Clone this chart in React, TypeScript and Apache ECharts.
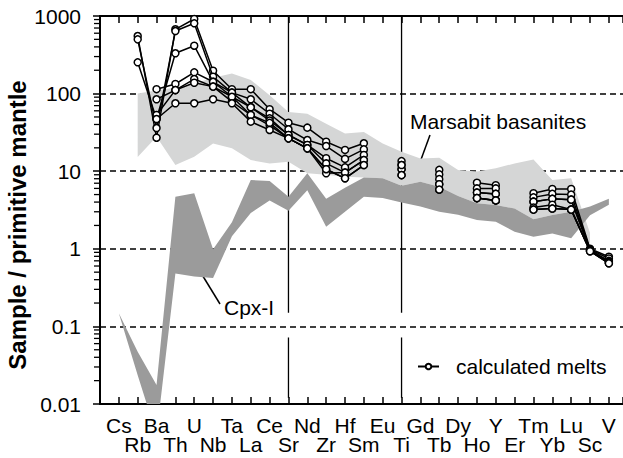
import React, { useEffect, useRef } from "react";
import * as echarts from "echarts";

// Elements (x categories, primitive-mantle order)
const elements = ["Cs","Rb","Ba","Th","U","Nb","Ta","La","Ce","Sr","Nd","Zr","Hf","Sm","Eu","Ti","Gd","Tb","Dy","Ho","Y","Er","Tm","Yb","Lu","Sc","V"];

// Calculated melts (sample / primitive mantle), null = not plotted
const melt1 = [null,552,27,674,915,197,114,114,63,42.2,36.4,24,18.8,22.9,null,13.5,null,10.4,null,7.1,6.6,null,5.2,5.9,5.9,1.0,0.79];
const melt2 = [null,500,36,640,805,165,103,84.5,55,34.7,25.2,21.1,14.4,19.1,null,12,null,9.1,null,6.0,6.0,null,4.6,5.1,5.0,0.98,0.75];
const melt3 = [null,253,47,331,414,142,91,66.6,48,29.3,21.8,14.7,11.2,16.2,null,10.6,null,7.9,null,5.3,5.1,null,4.05,4.4,4.3,0.96,0.70];
const melt4 = [null,null,114,133,188,142,103,66.6,45,29.3,21.8,12.6,9.6,13.9,null,10.6,null,6.8,null,5.3,5.1,null,4.05,4.4,4.3,0.95,0.68];
const melt5 = [null,null,84.5,111,154,123,79,53,39,26.5,19.7,10.6,8.1,12,null,8.9,null,5.8,null,4.5,4.2,null,3.4,3.7,3.2,0.94,0.65];
const melt6 = [null,null,53,111,138,123,91,53,42,26.5,19.7,9.4,9.6,13.9,null,12,null,6.8,null,4.5,4.2,null,3.2,3.3,3.2,0.93,0.66];
const melt7 = [null,null,47,75,75,84.5,75,43.5,34,26.5,19.7,10.6,8.1,12,null,8.9,null,5.8,null,4.5,4.2,null,3.2,3.3,3.2,0.93,0.65];
const melts = [melt1, melt2, melt3, melt4, melt5, melt6, melt7];

// Cpx-I field (dark grey)
const cpxUpper = [0.148,0.047,0.0176,4.7,5.2,0.99,2.2,7.7,7.5,4.7,9.4,4.4,6.1,8.3,8.1,6.5,7.3,6.3,4.8,3.85,3.67,3.3,2.4,2.73,3.0,3.5,4.4];
const cpxLower = [0.148,0.0235,0.004,0.48,0.44,0.42,1.45,2.9,4.2,3.1,5.7,1.93,3.0,4.7,4.5,3.95,3.5,3.0,2.75,2.35,2.23,1.66,1.43,1.58,1.37,2.7,3.7];

// Marsabit basanites field (light grey)
const basUpper = [null,100,110,120,135,160,182,150,95,58,55,41,30.6,32,22.8,17.8,14.6,14.9,10.4,9.9,10.9,12.6,14.2,7.7,8.1,1.6,null];
const basLower = [null,15.2,27.8,12,15.4,22.8,19.7,13.9,12.6,13.2,9.4,9.0,8.5,8.3,8.1,6.5,7.3,6.3,4.8,3.85,3.67,3.3,2.4,2.73,3.0,1.15,null];

// Vertical guide lines (at Sr and Ti), drawn in two segments
const guideElements = ["Sr", "Ti"];
const guideSegments = [[1000, 0.15], [0.072, 0.012]];

// Log minor ticks
const yMinorTicks = [0.02,0.03,0.04,0.05,0.06,0.07,0.08,0.09,0.2,0.3,0.4,0.5,0.6,0.7,0.8,0.9,2,3,4,5,6,7,8,9,20,30,40,50,60,70,80,90,200,300,400,500,600,700,800,900];

const FONT = "Liberation Sans, Arial, Helvetica, sans-serif";

function bandSeries(name: string, upper: (number | null)[], lower: (number | null)[], color: string, z: number) {
  return {
    type: "custom",
    name,
    coordinateSystem: "cartesian2d",
    clip: true,
    silent: true,
    z,
    data: [[0, 1]],
    renderItem: (_params: any, api: any) => {
      const pts: number[][] = [];
      upper.forEach((v, i) => { if (v != null) pts.push(api.coord([i, v])); });
      for (let i = lower.length - 1; i >= 0; i--) {
        const v = lower[i];
        if (v != null) pts.push(api.coord([i, v]));
      }
      return { type: "polygon", shape: { points: pts }, style: { fill: color } };
    },
  };
}

export default function App() {
  const ref = useRef<HTMLDivElement>(null);
  useEffect(() => {
    if (!ref.current) return;
    const chart = echarts.init(ref.current, null, { renderer: "svg" });
    const xLabel = (val: number) => {
      const i = Math.round(val);
      if (Math.abs(val - i) > 1e-6 || i < 0 || i >= elements.length) return "";
      return i % 2 === 0 ? elements[i] : "\n" + elements[i];
    };
    const guideData: number[][] = [];
    guideElements.forEach((el) => {
      const xi = elements.indexOf(el);
      guideSegments.forEach(([a, b]) => guideData.push([xi, a, b]));
    });
    const option: any = {
      animation: false,
      textStyle: { fontFamily: FONT },
      grid: { left: 100, right: 0, top: 16, bottom: 54, containLabel: false, outerBoundsMode: "none" },
      xAxis: [
        {
          type: "value", min: -1, max: 26.75, interval: 1, position: "bottom",
          axisLine: { show: true, onZero: false, lineStyle: { color: "#000", width: 2 } },
          axisTick: { show: true, inside: true, length: 7, lineStyle: { color: "#000", width: 1.5 } },
          axisLabel: { formatter: xLabel, fontSize: 21, color: "#000", margin: 12, lineHeight: 19, fontFamily: FONT },
          splitLine: { show: false },
        },
        {
          type: "value", min: -1, max: 26.75, interval: 1, position: "top",
          axisLine: { show: true, onZero: false, lineStyle: { color: "#000", width: 2 } },
          axisTick: { show: true, inside: true, length: 7, lineStyle: { color: "#000", width: 1.5 } },
          axisLabel: { show: false },
          splitLine: { show: false },
        },
      ],
      yAxis: {
        type: "log", logBase: 10, min: 0.01, max: 1000,
        axisLine: { show: true, onZero: false, lineStyle: { color: "#000", width: 2 } },
        axisTick: { show: true, inside: false, length: 7, lineStyle: { color: "#000", width: 1.5 } },
        axisLabel: { fontSize: 21, color: "#000", margin: 19, fontFamily: FONT, formatter: (v: number) => String(+Number(v).toPrecision(3)) },
        splitLine: { show: true, lineStyle: { color: "#000", width: 1.6, type: [6, 4] } },
      },
      legend: {
        data: ["calculated melts"],
        left: 412, top: 351,
        itemWidth: 21, itemHeight: 7,
        textStyle: { fontSize: 21, color: "#000", fontFamily: FONT, padding: [0, 0, 0, 12] },
        selectedMode: false,
      },
      graphic: [
        { type: "text", x: 17, y: 225, rotation: Math.PI / 2, style: { text: "Sample / primitive mantle", font: `bold 24px ${FONT}`, fill: "#000", align: "center", verticalAlign: "middle" } },
        { type: "text", x: 410, y: 121, style: { text: "Marsabit basanites", font: `21px ${FONT}`, fill: "#000", align: "left", verticalAlign: "middle" } },
        { type: "line", shape: { x1: 430, y1: 135, x2: 419, y2: 165 }, style: { stroke: "#000", lineWidth: 1.5 } },
        { type: "text", x: 224, y: 307, style: { text: "Cpx-I", font: `21px ${FONT}`, fill: "#000", align: "left", verticalAlign: "middle" } },
        { type: "line", shape: { x1: 201, y1: 273, x2: 220, y2: 304 }, style: { stroke: "#000", lineWidth: 1.5 } },
      ],
      series: [
        {
          type: "custom", name: "guides", coordinateSystem: "cartesian2d", silent: true, z: 1,
          data: guideData,
          renderItem: (_p: any, api: any) => {
            const p1 = api.coord([api.value(0), api.value(1)]);
            const p2 = api.coord([api.value(0), api.value(2)]);
            return { type: "line", shape: { x1: p1[0], y1: p1[1], x2: p2[0], y2: p2[1] }, style: { stroke: "#000", lineWidth: 1.3 } };
          },
        },
        {
          type: "custom", name: "minor ticks", coordinateSystem: "cartesian2d", silent: true, z: 1,
          data: yMinorTicks.map((v) => [-1, v]),
          renderItem: (_p: any, api: any) => {
            const p = api.coord([api.value(0), api.value(1)]);
            return { type: "line", shape: { x1: p[0] - 6, y1: p[1], x2: p[0], y2: p[1] }, style: { stroke: "#000", lineWidth: 1.3 } };
          },
        },
        bandSeries("Marsabit basanites", basUpper, basLower, "#d5d6d6", 2),
        bandSeries("Cpx-I", cpxUpper, cpxLower, "#9b9b9b", 3),
        ...melts.map((arr, k) => ({
          type: "line",
          name: "calculated melts",
          data: arr.map((v, i) => [i, v]),
          symbol: "circle",
          symbolSize: 7,
          showAllSymbol: true,
          connectNulls: false,
          lineStyle: { color: "#000", width: 1.5 },
          itemStyle: { color: "#fff", borderColor: "#000", borderWidth: 1.5 },
          z: 5 + k,
        })),
      ],
    };
    chart.setOption(option);
    return () => chart.dispose();
  }, []);
  return <div ref={ref} style={{ position: "absolute", left: 0, top: 0, width: 623, height: 458 }} />;
}
